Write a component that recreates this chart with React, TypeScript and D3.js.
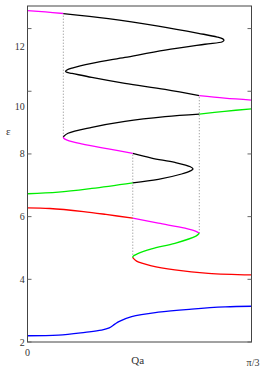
import React from 'react';
import * as d3 from 'd3';

// x is Qa in units of pi/3 (0..1), y is epsilon
const yTicks = [2, 4, 6, 8, 10, 12];
const yTickLabels = ['2', '4', '6', '8', '10', '12'];
// where each tick label sits (in epsilon units) as drawn in the original
const yLabelAt = [2, 4, 6, 8, 9.52, 11.42];

const blue = [[0, 2.2], [0.138, 2.22], [0.257, 2.31], [0.33, 2.38], [0.365, 2.45], [0.39, 2.57], [0.41, 2.66], [0.465, 2.81], [0.584, 2.95], [0.733, 3.05], [0.882, 3.12], [1, 3.14]];

const redTop = [[0, 6.28], [0.1, 6.26], [0.25, 6.16], [0.35, 6.07], [0.47, 5.95]];
const magentaLow = [[0.47, 5.95], [0.584, 5.79], [0.703, 5.63], [0.752, 5.53], [0.767, 5.47]];
const greenS = [[0.767, 5.47], [0.752, 5.38], [0.658, 5.15], [0.554, 4.97], [0.49, 4.81], [0.472, 4.74], [0.47, 4.69]];
const redBottom = [[0.47, 4.69], [0.487, 4.58], [0.554, 4.43], [0.658, 4.3], [0.807, 4.19], [1, 4.14]];

const greenLeft = [[0, 6.73], [0.138, 6.78], [0.287, 6.9], [0.47, 7.08]];
const blackLowTip = [[0.47, 7.08], [0.584, 7.19], [0.688, 7.36], [0.727, 7.46], [0.739, 7.52], [0.727, 7.59], [0.658, 7.73], [0.554, 7.87], [0.47, 8.02]];
const magentaMid = [[0.47, 8.02], [0.361, 8.16], [0.242, 8.32], [0.177, 8.44], [0.162, 8.5], [0.16, 8.55]];
const blackMid = [[0.16, 8.55], [0.181, 8.66], [0.287, 8.85], [0.435, 9.04], [0.614, 9.19], [0.767, 9.27]];
const greenRight = [[0.767, 9.27], [0.88, 9.36], [1, 9.44]];

const magentaTopLeft = [[0, 12.57], [0.08, 12.53], [0.16, 12.48]];
const blackTop = [[0.16, 12.48], [0.361, 12.32], [0.584, 12.08], [0.763, 11.85], [0.847, 11.73], [0.872, 11.67], [0.877, 11.63], [0.87, 11.58], [0.792, 11.5], [0.614, 11.31], [0.435, 11.08], [0.287, 10.89], [0.199, 10.74], [0.176, 10.68], [0.17, 10.64], [0.177, 10.6], [0.199, 10.57], [0.287, 10.44], [0.435, 10.25], [0.614, 10.06], [0.767, 9.86]];
const magentaRight = [[0.767, 9.86], [0.88, 9.78], [1, 9.72]];

// vertical dotted connectors: [x, eps bottom, eps top]
const dotted = [[0.16, 8.55, 12.48], [0.47, 4.69, 8.02], [0.767, 5.47, 9.86]];

const segments = [
  { pts: blue, color: '#0000ff' },
  { pts: redTop, color: '#ff0000' },
  { pts: magentaLow, color: '#ff00ff' },
  { pts: greenS, color: '#00ee00' },
  { pts: redBottom, color: '#ff0000' },
  { pts: greenLeft, color: '#00ee00' },
  { pts: blackLowTip, color: '#000000' },
  { pts: magentaMid, color: '#ff00ff' },
  { pts: blackMid, color: '#000000' },
  { pts: greenRight, color: '#00ee00' },
  { pts: magentaTopLeft, color: '#ff00ff' },
  { pts: blackTop, color: '#000000' },
  { pts: magentaRight, color: '#ff00ff' },
];

export default function App() {
  const W = 266, H = 369;
  const left = 27.5, right = 251.5, top = 6, bottom = 342;
  const x = d3.scaleLinear().domain([0, 1]).range([left, right]);
  const y = d3.scaleLinear().domain([2, 12.72]).range([bottom, top]);
  const line = d3.line<number[]>()
    .x(d => x(d[0]))
    .y(d => y(d[1]))
    .curve(d3.curveCatmullRom.alpha(0.5));
  const txt = { fontFamily: '"Liberation Serif", serif' };

  return (
    <svg width={W} height={H} style={{ position: 'absolute', left: 0, top: 0 }}>
      <rect x={0} y={0} width={W} height={H} fill="#fff" />
      {dotted.map((d, i) => (
        <line key={'d' + i} x1={x(d[0])} x2={x(d[0])} y1={y(d[1])} y2={y(d[2])}
          stroke="#888" strokeWidth={1} strokeDasharray="1,2" />
      ))}
      {segments.map((s, i) => (
        <path key={'s' + i} d={line(s.pts) || ''} fill="none" stroke={s.color} strokeWidth={1.3} />
      ))}
      <rect x={left} y={top} width={right - left} height={bottom - top} fill="none" stroke="#444" strokeWidth={1} />
      {yTicks.map((t, i) => (
        <g key={'t' + i}>
          <line x1={left} x2={left + 4} y1={y(t)} y2={y(t)} stroke="#666" />
          <line x1={right - 4} x2={right} y1={y(t)} y2={y(t)} stroke="#666" />
          <text style={txt} x={24.8} y={y(yLabelAt[i])} dy="0.35em" textAnchor="end" fontSize={10} fill="#333">{yTickLabels[i]}</text>
        </g>
      ))}
      <text style={txt} x={x(0)} y={352.7} dy="0.35em" textAnchor="middle" fontSize={10} fill="#333">0</text>
      <text style={txt} x={253} y={362} dy="0.35em" textAnchor="middle" fontSize={10} fill="#333">π/3</text>
      <text style={txt} x={137.7} y={360.5} dy="0.35em" textAnchor="middle" fontSize={11} fill="#333">Qa</text>
      <text style={txt} x={8.3} y={131.5} dy="0.35em" textAnchor="middle" fontSize={11} fill="#333">ε</text>
    </svg>
  );
}
